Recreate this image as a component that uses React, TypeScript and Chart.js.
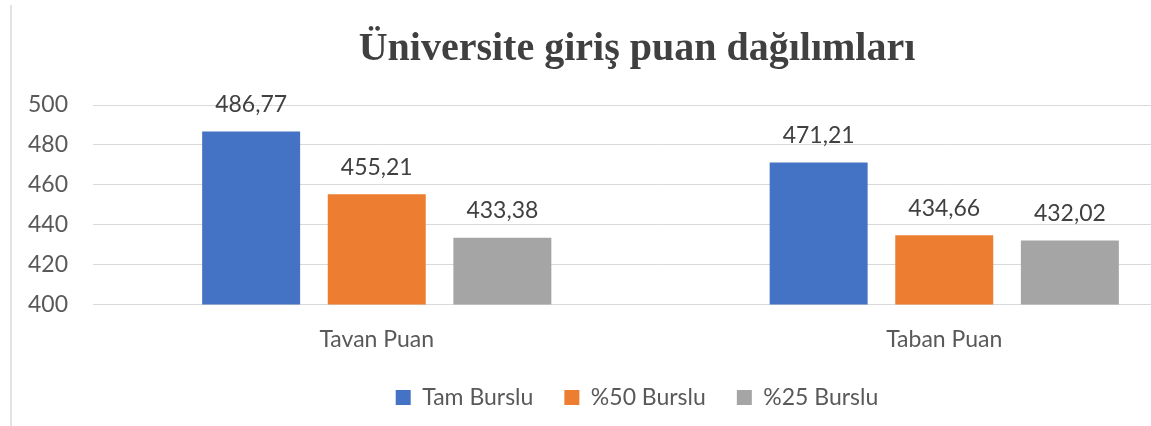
import React, { useEffect, useRef } from "react";
import { Chart, registerables } from "chart.js";

Chart.register(...registerables);

const categories = ["Tavan Puan", "Taban Puan"];
const seriesNames = ["Tam Burslu", "%50 Burslu", "%25 Burslu"];
const tamBurslu = [486.77, 471.21];
const yuzde50 = [455.21, 434.66];
const yuzde25 = [433.38, 432.02];
const colors = ["#4472C4", "#ED7D31", "#A5A5A5"];
const yMin = 400;
const yMax = 500;
const yStep = 20;
const titleText = "Üniversite giriş puan dağılımları";

const valueLabels = {
  id: "valueLabels",
  afterDatasetsDraw(chart: any) {
    const ctx = chart.ctx;
    ctx.save();
    ctx.font = "23px Lato";
    ctx.fillStyle = "#404040";
    ctx.textAlign = "center";
    ctx.textBaseline = "middle";
    chart.data.datasets.forEach((ds: any, i: number) => {
      const meta = chart.getDatasetMeta(i);
      meta.data.forEach((el: any, j: number) => {
        const v = ds.data[j] as number;
        ctx.fillText(v.toFixed(2).replace(".", ","), el.x, el.y - 27);
      });
    });
    ctx.restore();
  },
};

// shift the full-width title and legend boxes so they centre like the reference
const boxShift = {
  id: "boxShift",
  afterLayout(chart: any) {
    const t = chart.titleBlock;
    if (t) t.left = 46;
    const l = chart.legend;
    if (l) {
      l.left = 46;
      l.top -= 19;
      l.bottom -= 19;
    }
  },
};

export default function App() {
  const ref = useRef<HTMLCanvasElement>(null);
  useEffect(() => {
    if (!ref.current) return;
    const data = [tamBurslu, yuzde50, yuzde25];
    const chart = new Chart(ref.current, {
      type: "bar",
      data: {
        labels: categories,
        datasets: seriesNames.map((name, i) => ({
          label: name,
          data: data[i],
          backgroundColor: colors[i],
          borderWidth: 0,
          categoryPercentage: 0.664,
          barPercentage: 0.78,
        })),
      },
      options: {
        responsive: false,
        animation: false,
        devicePixelRatio: 1,
        layout: { padding: { left: 0, right: 0, top: 0, bottom: 0 } },
        plugins: {
          title: {
            display: true,
            text: titleText,
            color: "#404040",
            font: { family: "'Liberation Serif'", size: 40, weight: "bold" },
            padding: { top: 26, bottom: 31 },
          },
          legend: {
            position: "bottom",
            labels: {
              boxWidth: 15,
              boxHeight: 15,
              padding: 31,
              color: "#595959",
              font: { family: "Lato", size: 23 },
            },
          },
          tooltip: { enabled: false },
        },
        scales: {
          x: {
            grid: { display: false, drawTicks: false },
            border: { display: true, color: "#d9d9d9" },
            ticks: {
              color: "#595959",
              font: { family: "Lato", size: 23 },
              padding: 21,
            },
          },
          y: {
            min: yMin,
            max: yMax,
            afterFit: (s: any) => {
              s.width = 93;
            },
            grid: { color: "#d9d9d9", drawTicks: false },
            border: { display: false },
            ticks: {
              stepSize: yStep,
              color: "#595959",
              font: { family: "Lato", size: 23 },
              padding: 25,
            },
          },
        },
      },
      plugins: [valueLabels, boxShift],
    });
    return () => chart.destroy();
  }, []);

  return (
    <div
      style={{
        position: "fixed",
        left: 0,
        top: 0,
        width: 1151,
        height: 426,
        overflow: "hidden",
        background: "#fff",
      }}
    >
      <canvas
        ref={ref}
        width={1228}
        height={438}
        style={{ position: "absolute", left: 0, top: 0, width: 1228, height: 438 }}
      />
      <div
        style={{
          position: "absolute",
          left: 10,
          top: 5,
          width: 2,
          height: 421,
          background: "#e3e3e3",
        }}
      />
    </div>
  );
}
